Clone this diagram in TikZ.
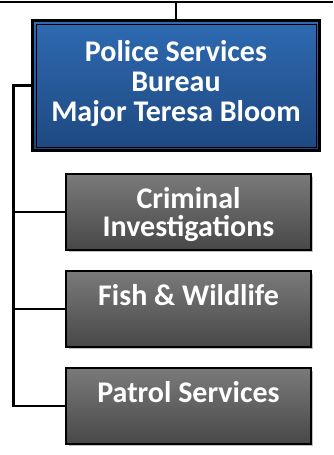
\documentclass[tikz,border=0pt]{standalone}
\usepackage{fontspec}
\setmainfont{Carlito}
\usetikzlibrary{shadows,calc}
\definecolor{bluetop}{RGB}{46,106,178}
\definecolor{bluebot}{RGB}{30,72,128}
\definecolor{graytop}{RGB}{122,122,122}
\definecolor{graybot}{RGB}{72,72,72}
\tikzset{
  conn/.style={draw=black, line width=2.6pt},
  headbox/.style={rectangle, draw=black, line width=3pt, top color=bluetop, bottom color=bluebot,
    minimum width=287pt, minimum height=130pt, inner sep=0pt},
  headtext/.style={anchor=north, align=center, text=white, inner sep=0pt,
    font=\bfseries\fontsize{30}{30}\selectfont},
  unitbox/.style={rectangle, draw=black, line width=2.2pt, top color=graytop, bottom color=graybot,
    minimum width=244.8pt, minimum height=75.8pt, inner sep=0pt,
    drop shadow={shadow xshift=2.5pt, shadow yshift=-2.5pt, fill=black, opacity=0.25}},
  unittext/.style={anchor=north, align=center, text=white, inner sep=0pt,
    font=\bfseries\fontsize{30}{28}\selectfont},
}
\begin{document}
\begin{tikzpicture}[x=1pt,y=-1pt]
\useasboundingbox (0,0) rectangle (333,455);
\coordinate (tl) at (0,2);
\coordinate (tr) at (333,2);
\coordinate (tm) at (176,2);
\node[headbox] (head) at (176,85.5) {};
\draw[black, line width=1pt] ($(head.north west)+(5,5)$) rectangle ($(head.south east)+(-5,-5)$);
\node[headtext] (headt) at ($(head.north)+(0,21.5)$) {Police Services\\Bureau\\Major Teresa Bloom};
\node[unitbox] (cri) at (188.5,212) {};
\node[unittext] (crit) at ($(cri.north)+(0,14.5)$) {Criminal\\Investigations};
\node[unitbox] (fish) at (188.5,309) {};
\node[unittext] (fisht) at ($(fish.north)+(0,14.5)$) {Fish \& Wildlife};
\node[unitbox] (pat) at (188.5,406) {};
\node[unittext] (patt) at ($(pat.north)+(0,14.5)$) {Patrol Services};
\coordinate (bend) at (13.5,85.5);
\coordinate (bot) at (13.5,406);
\draw[conn] (tl) -- (tr);
\draw[conn] (tm) -- (head.north);
\draw[conn, line join=miter] (head.west) -- (bend) -- (bot) -- (pat.west);
\draw[conn] (13.5,212) -- (cri.west);
\draw[conn] (13.5,309) -- (fish.west);
\end{tikzpicture}
\end{document}
